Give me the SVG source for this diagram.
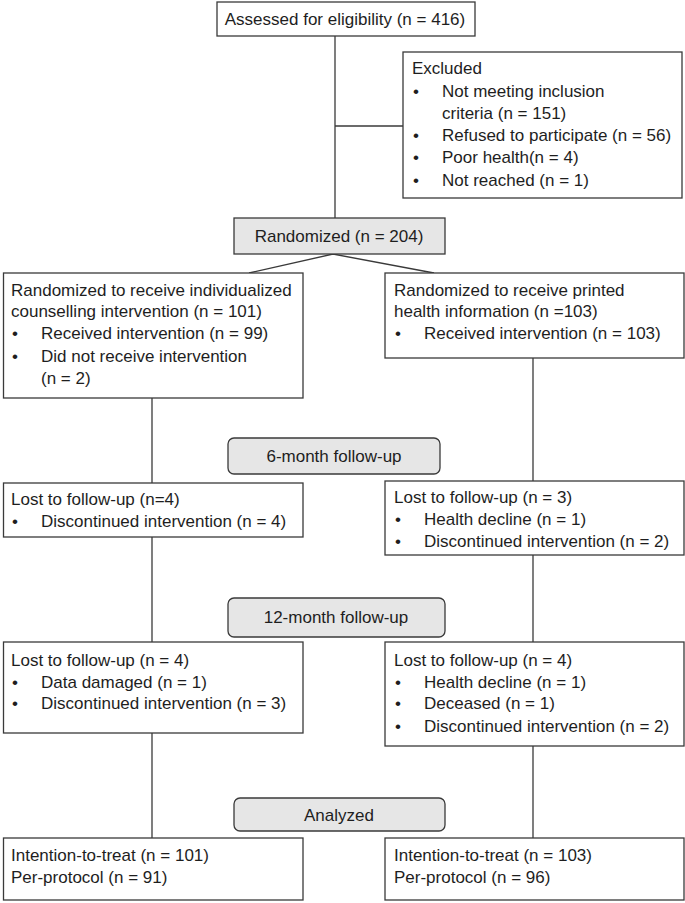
<svg xmlns="http://www.w3.org/2000/svg" width="685" height="903" viewBox="0 0 685 903">
<style>
  .box { fill: #ffffff; stroke: #3a3a3a; stroke-width: 1.3; }
  .gray { fill: #e6e6e6; stroke: #3a3a3a; stroke-width: 1.3; }
  .ln { fill: none; stroke: #3a3a3a; stroke-width: 1.3; }
  text { font-family: "Liberation Sans", Arial, sans-serif; font-size: 17px; fill: #1e1e1e; }
  .c { text-anchor: middle; }
</style>
<rect width="685" height="903" fill="#ffffff"/>
<g id="connectors">
  <line class="ln" x1="335" y1="36" x2="335" y2="218"/>
  <line class="ln" x1="335" y1="126" x2="403" y2="126"/>
  <polyline class="ln" points="249,273 333,254 434,273"/>
  <line class="ln" x1="152" y1="398" x2="152" y2="483"/>
  <line class="ln" x1="152" y1="537" x2="152" y2="642"/>
  <line class="ln" x1="152" y1="733" x2="152" y2="838"/>
  <line class="ln" x1="533" y1="358" x2="533" y2="481"/>
  <line class="ln" x1="533" y1="555" x2="533" y2="642"/>
  <line class="ln" x1="533" y1="746" x2="533" y2="838"/>
</g>
<g id="assessed">
  <rect class="box" x="217" y="2" width="258" height="34"/>
  <text class="c" x="345" y="25">Assessed for eligibility (n = 416)</text>
</g>
<g id="excluded">
  <rect class="box" x="403" y="52" width="279" height="146"/>
  <text x="412" y="74">Excluded</text>
  <text x="413" y="97">•</text><text x="442" y="97">Not meeting inclusion</text>
  <text x="442" y="119">criteria (n = 151)</text>
  <text x="413" y="141">•</text><text x="442" y="141">Refused to participate (n = 56)</text>
  <text x="413" y="163">•</text><text x="442" y="163">Poor health(n = 4)</text>
  <text x="413" y="186">•</text><text x="442" y="186">Not reached (n = 1)</text>
</g>
<g id="randomized">
  <rect class="gray" x="234" y="218" width="211" height="36"/>
  <text class="c" x="339" y="242">Randomized (n = 204)</text>
</g>
<g id="arm-counselling">
  <rect class="box" x="3.5" y="273" width="299.5" height="125"/>
  <text x="11" y="296">Randomized to receive individualized</text>
  <text x="11" y="317">counselling intervention (n = 101)</text>
  <text x="12" y="339">•</text><text x="41" y="339">Received intervention (n = 99)</text>
  <text x="12" y="362">•</text><text x="41" y="362">Did not receive intervention</text>
  <text x="41" y="384">(n = 2)</text>
</g>
<g id="arm-printed">
  <rect class="box" x="385" y="273" width="299" height="85"/>
  <text x="394" y="296">Randomized to receive printed</text>
  <text x="394" y="317">health information (n =103)</text>
  <text x="395" y="339">•</text><text x="424" y="339">Received intervention (n = 103)</text>
</g>
<g id="followup6">
  <rect class="gray" x="228" y="438" width="212" height="36" rx="6" ry="6"/>
  <text class="c" x="334" y="462">6-month follow-up</text>
</g>
<g id="lost6-left">
  <rect class="box" x="3.5" y="483" width="299.5" height="54"/>
  <text x="11" y="505">Lost to follow-up (n=4)</text>
  <text x="12" y="527">•</text><text x="41" y="527">Discontinued intervention (n = 4)</text>
</g>
<g id="lost6-right">
  <rect class="box" x="385" y="481" width="299" height="74"/>
  <text x="394" y="503">Lost to follow-up (n = 3)</text>
  <text x="395" y="525">•</text><text x="424" y="525">Health decline (n = 1)</text>
  <text x="395" y="547">•</text><text x="424" y="547">Discontinued intervention (n = 2)</text>
</g>
<g id="followup12">
  <rect class="gray" x="228" y="598" width="217" height="39" rx="6" ry="6"/>
  <text class="c" x="336" y="623">12-month follow-up</text>
</g>
<g id="lost12-left">
  <rect class="box" x="3.5" y="642" width="299.5" height="91"/>
  <text x="11" y="666">Lost to follow-up (n = 4)</text>
  <text x="12" y="688">•</text><text x="41" y="688">Data damaged (n = 1)</text>
  <text x="12" y="709">•</text><text x="41" y="709">Discontinued intervention (n = 3)</text>
</g>
<g id="lost12-right">
  <rect class="box" x="385" y="642" width="299" height="104"/>
  <text x="394" y="666">Lost to follow-up (n = 4)</text>
  <text x="395" y="688">•</text><text x="424" y="688">Health decline (n = 1)</text>
  <text x="395" y="709">•</text><text x="424" y="709">Deceased (n = 1)</text>
  <text x="395" y="732">•</text><text x="424" y="732">Discontinued intervention (n = 2)</text>
</g>
<g id="analyzed">
  <rect class="gray" x="234" y="798" width="211" height="33" rx="6" ry="6"/>
  <text class="c" x="339" y="821">Analyzed</text>
</g>
<g id="analysis-left">
  <rect class="box" x="3.5" y="838" width="299.5" height="62"/>
  <text x="11" y="861">Intention-to-treat (n = 101)</text>
  <text x="11" y="883">Per-protocol (n = 91)</text>
</g>
<g id="analysis-right">
  <rect class="box" x="385" y="838" width="299" height="62"/>
  <text x="394" y="861">Intention-to-treat (n = 103)</text>
  <text x="394" y="883">Per-protocol (n = 96)</text>
</g>
</svg>
